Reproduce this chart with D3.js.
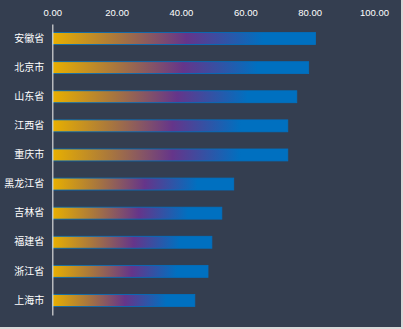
<!DOCTYPE html>
<html>
<head>
<meta charset="utf-8">
<script src="https://cdn.jsdelivr.net/npm/d3@7"></script>
<style>
html,body{margin:0;padding:0;background:#d9d9d9;}
svg{display:block;}
</style>
</head>
<body>
<svg id="chart" width="403" height="329"></svg>
<script>
const categories = ["安徽省","北京市","山东省","江西省","重庆市","黑龙江省","吉林省","福建省","浙江省","上海市"];
const values = [81.8, 79.7, 76.0, 73.2, 73.2, 56.4, 52.7, 49.6, 48.4, 44.3];
const tickValues = [0, 20, 40, 60, 80, 100];

const svg = d3.select("#chart");
svg.append("rect").attr("x",0).attr("y",0).attr("width",401).attr("height",327).attr("fill","#343e50");

const defs = svg.append("defs");
const grad = defs.append("linearGradient").attr("id","barGrad")
  .attr("x1","0%").attr("y1","0%").attr("x2","100%").attr("y2","0%");
grad.append("stop").attr("offset","0%").attr("stop-color","#e8b000");
grad.append("stop").attr("offset","25%").attr("stop-color","#a8763e");
grad.append("stop").attr("offset","51%").attr("stop-color","#65358a");
grad.append("stop").attr("offset","80%").attr("stop-color","#0070c0");
grad.append("stop").attr("offset","100%").attr("stop-color","#0070c0");

const x = d3.scaleLinear().domain([0,100]).range([52.3, 374]);
const y = d3.scaleBand().domain(categories).range([24, 315]).paddingInner(0.59).paddingOuter(0.295);

// top axis labels
const xAxis = d3.axisTop(x).tickValues(tickValues).tickFormat(d3.format(".2f")).tickSize(0).tickPadding(0);
const gx = svg.append("g").attr("transform","translate(0,16)").call(xAxis);
gx.select(".domain").remove();
gx.selectAll("text").attr("fill","#ffffff").attr("font-size","9.5px")
  .attr("font-family","'Liberation Sans', Arial, sans-serif").attr("dy","0");

// bars
svg.append("g").selectAll("rect").data(categories).join("rect")
  .attr("x", x(0))
  .attr("y", d => y(d))
  .attr("width", (d,i) => x(values[i]) - x(0))
  .attr("height", y.bandwidth())
  .attr("fill","url(#barGrad)")
  .attr("stroke","#0070c0")
  .attr("stroke-width",0.8);

// left axis
const yAxis = d3.axisLeft(y).tickSize(0).tickPadding(8);
const gy = svg.append("g").attr("transform",`translate(${x(0)},0)`).call(yAxis);
gy.select(".domain").attr("stroke","#d9d9d9").attr("stroke-width",1.2);
gy.selectAll("text").attr("fill","#ffffff").attr("font-size","10px")
  .attr("font-family","'Noto Sans CJK SC', sans-serif");
</script>
</body>
</html>
